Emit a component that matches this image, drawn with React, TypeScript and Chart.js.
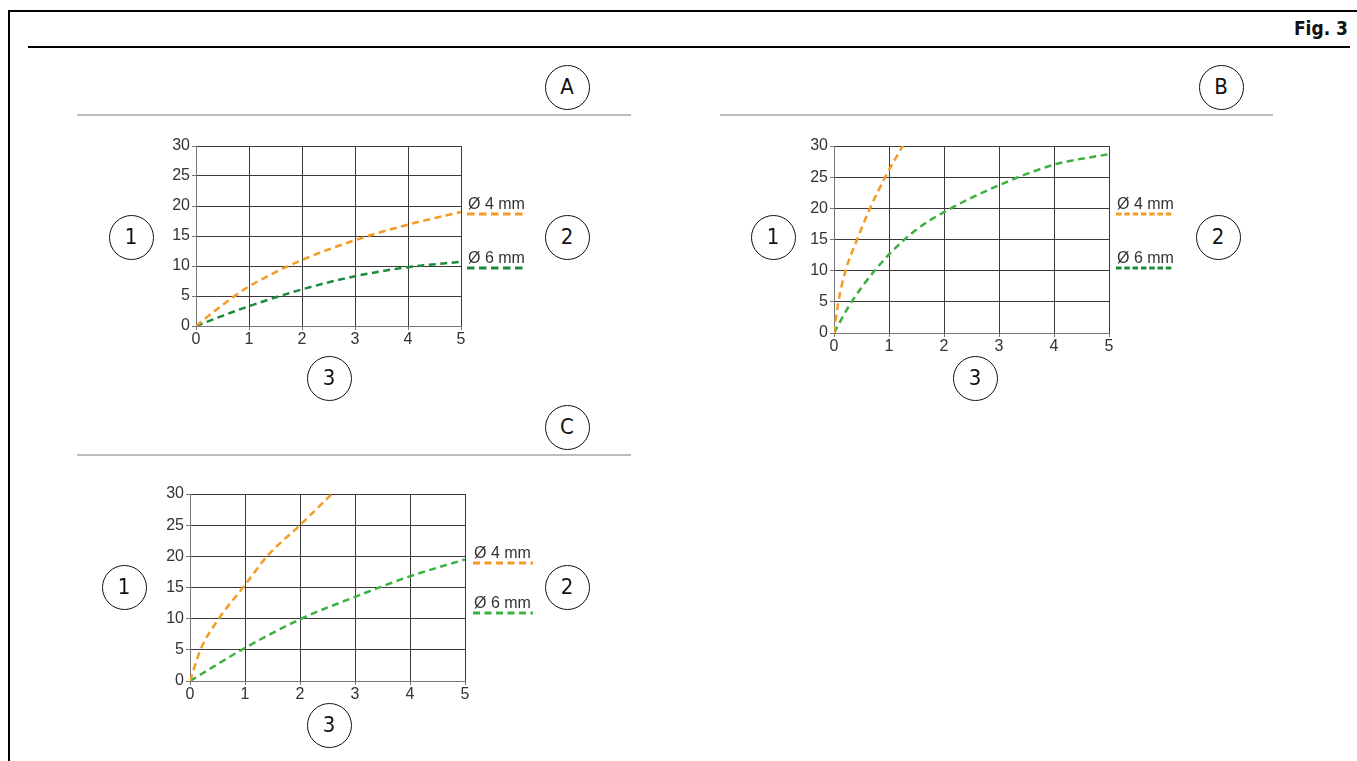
import React, { useEffect, useRef } from "react";
import { Chart, registerables } from "chart.js";

Chart.register(...registerables);

// ---------- data ----------
const xMin = 0;
const xMax = 5;
const xStep = 1;
const yMin = 0;
const yMax = 30;
const yStep = 5;
const seriesNames = ["Ø 4 mm", "Ø 6 mm"];
const figureTitle = "Fig. 3";
const panelLetters = ["A", "B", "C"];
const calloutLabels = ["1", "2", "3"];

// Panel A
const panelAx4 = [0, 0.5, 1, 2, 3, 4, 5];
const panelAy4 = [0, 3.5, 6.6, 11.0, 14.3, 16.9, 19.0];
const panelAx6 = [0, 0.5, 1, 2, 3, 4, 5];
const panelAy6 = [0, 1.7, 3.3, 6.1, 8.3, 9.8, 10.7];

// Panel B
const panelBx4 = [0, 0.08, 0.21, 0.42, 0.655, 0.93, 1.25];
const panelBy4 = [0, 5, 10, 15, 20, 25, 30];
const panelBx6 = [0, 0.25, 0.5, 1, 1.5, 2, 3, 4, 5];
const panelBy6 = [0, 4.0, 7.3, 12.6, 16.6, 19.4, 23.7, 27.0, 28.7];

// Panel C
const panelCx4 = [0, 0.19, 0.5, 1, 1.4, 2, 2.58];
const panelCy4 = [0, 5, 9.7, 15.4, 20, 25, 30];
const panelCx6 = [0, 1, 2, 3, 4, 5];
const panelCy6 = [0, 5.3, 9.9, 13.5, 16.8, 19.5];

// ---------- styles ----------
const ORANGE = "#F39B22";
const GREEN_DARK = "#1B8B3B";
const GREEN_LIGHT = "#3DB140";
const TICK_FONT = 'Arial, "Liberation Sans", sans-serif';
const CIRCLE_FONT = '"DejaVu Sans Condensed", "DejaVu Sans", sans-serif';

type Series = { xs: number[]; ys: number[]; name: string; color: string; legendColor: string };
type Box = { left: number; top: number; width: number; height: number };
type Plot = { left: number; top: number; right: number; bottom: number };
type LegendSpec = { x1: number; x2: number; ys: number[]; dash: number[] };

const Y_AXIS_W = 40;
const X_AXIS_H = 24;

function PanelChart(p: { box: Box; plot: Plot; series: Series[]; legend: LegendSpec }) {
  const ref = useRef<HTMLCanvasElement>(null);
  useEffect(() => {
    const canvas = ref.current;
    if (!canvas) return;
    const legendPlugin = {
      id: "sideLegend",
      afterDraw(chart: any) {
        const ctx = chart.ctx as CanvasRenderingContext2D;
        const a = chart.chartArea;
        ctx.save();
        p.series.forEach((s, i) => {
          const y = a.top + p.legend.ys[i];
          const x1 = a.right + p.legend.x1;
          const x2 = a.right + p.legend.x2;
          ctx.setLineDash(p.legend.dash);
          ctx.lineWidth = 3;
          ctx.strokeStyle = s.legendColor;
          ctx.beginPath();
          ctx.moveTo(x1, y);
          ctx.lineTo(x2, y);
          ctx.stroke();
          ctx.setLineDash([]);
          ctx.fillStyle = "#333";
          ctx.font = `16px ${TICK_FONT}`;
          ctx.textAlign = "left";
          ctx.textBaseline = "alphabetic";
          ctx.fillText(s.name, x1 + 1, y - 5);
        });
        ctx.restore();
      },
    };
    const gridOpts = { color: "#3a3a3a", lineWidth: 1, tickLength: 4, drawTicks: true, tickColor: "#777" };
    const borderOpts = { display: true, color: "#777", width: 1 };
    const chart = new Chart(canvas, {
      type: "line",
      data: {
        datasets: p.series.map((s) => ({
          label: s.name,
          data: s.xs.map((x, i) => ({ x, y: s.ys[i] })),
          borderColor: s.color,
          borderWidth: 2.5,
          borderDash: [7, 4.5],
          pointRadius: 0,
          cubicInterpolationMode: "monotone" as const,
          fill: false,
        })),
      },
      options: {
        animation: false,
        responsive: false,
        events: [],
        layout: {
          padding: {
            left: p.plot.left - p.box.left - Y_AXIS_W,
            top: p.plot.top - p.box.top,
            right: p.box.left + p.box.width - p.plot.right,
            bottom: p.box.top + p.box.height - p.plot.bottom - X_AXIS_H,
          },
        },
        plugins: { legend: { display: false }, tooltip: { enabled: false } },
        scales: {
          x: {
            type: "linear",
            min: xMin,
            max: xMax,
            afterFit: (s: any) => {
              s.height = X_AXIS_H;
            },
            ticks: { stepSize: xStep, color: "#333", font: { family: TICK_FONT, size: 16 }, padding: 0, maxRotation: 0, autoSkip: false },
            grid: gridOpts,
            border: borderOpts,
          },
          y: {
            type: "linear",
            min: yMin,
            max: yMax,
            afterFit: (s: any) => {
              s.width = Y_AXIS_W;
            },
            ticks: { stepSize: yStep, color: "#333", font: { family: TICK_FONT, size: 16 }, padding: 2, autoSkip: false },
            grid: gridOpts,
            border: borderOpts,
          },
        },
      },
      plugins: [legendPlugin],
    } as any);
    return () => chart.destroy();
  }, []);
  return (
    <canvas
      ref={ref}
      width={p.box.width}
      height={p.box.height}
      style={{ position: "absolute", left: p.box.left, top: p.box.top, width: p.box.width, height: p.box.height }}
    />
  );
}

function Circle(props: { cx: number; cy: number; text: string; size?: number }) {
  const d = 45;
  return (
    <div
      style={{
        position: "absolute",
        left: props.cx - d / 2,
        top: props.cy - d / 2,
        width: d,
        height: d,
        boxSizing: "border-box",
        border: "1.6px solid #111",
        borderRadius: "50%",
        display: "flex",
        alignItems: "center",
        justifyContent: "center",
        fontFamily: CIRCLE_FONT,
        fontSize: props.size ?? 22,
        color: "#111",
        lineHeight: 1,
      }}
    >
      {props.text}
    </div>
  );
}

function Rule(props: { left: number; top: number; width: number; height: number; color: string }) {
  return (
    <div
      style={{
        position: "absolute",
        left: props.left,
        top: props.top,
        width: props.width,
        height: props.height,
        background: props.color,
      }}
    />
  );
}

export default function App() {
  const panelA: Series[] = [
    { xs: panelAx4, ys: panelAy4, name: seriesNames[0], color: ORANGE, legendColor: ORANGE },
    { xs: panelAx6, ys: panelAy6, name: seriesNames[1], color: GREEN_DARK, legendColor: GREEN_DARK },
  ];
  const panelB: Series[] = [
    { xs: panelBx4, ys: panelBy4, name: seriesNames[0], color: ORANGE, legendColor: ORANGE },
    { xs: panelBx6, ys: panelBy6, name: seriesNames[1], color: GREEN_LIGHT, legendColor: GREEN_DARK },
  ];
  const panelC: Series[] = [
    { xs: panelCx4, ys: panelCy4, name: seriesNames[0], color: ORANGE, legendColor: ORANGE },
    { xs: panelCx6, ys: panelCy6, name: seriesNames[1], color: GREEN_LIGHT, legendColor: GREEN_LIGHT },
  ];

  return (
    <div
      style={{
        position: "fixed",
        left: 0,
        top: 0,
        width: 1357,
        height: 761,
        background: "#fff",
        overflow: "hidden",
      }}
    >
      {/* frame */}
      <Rule left={8} top={10} width={2} height={751} color="#000" />
      <Rule left={8} top={10} width={1349} height={2} color="#000" />
      <Rule left={28} top={46} width={1322} height={2} color="#000" />
      <div
        style={{
          position: "absolute",
          right: 9,
          top: 18,
          fontFamily: CIRCLE_FONT,
          fontWeight: "bold",
          fontSize: 19,
          lineHeight: "20px",
          color: "#111",
        }}
      >
        {figureTitle}
      </div>

      {/* section rules */}
      <Rule left={77} top={114} width={554} height={2} color="#bdbdbd" />
      <Rule left={720} top={114} width={553} height={2} color="#bdbdbd" />
      <Rule left={77} top={454} width={554} height={2} color="#bdbdbd" />

      {/* charts */}
      <PanelChart
        box={{ left: 140, top: 126, width: 400, height: 240 }}
        plot={{ left: 196, top: 146, right: 461, bottom: 326 }}
        series={panelA}
        legend={{ x1: 6, x2: 66, ys: [68, 122], dash: [7.5, 4.5] }}
      />
      <PanelChart
        box={{ left: 780, top: 126, width: 410, height: 247 }}
        plot={{ left: 834, top: 146, right: 1109, bottom: 333 }}
        series={panelB}
        legend={{ x1: 7, x2: 65, ys: [68, 122], dash: [5.5, 2.8] }}
      />
      <PanelChart
        box={{ left: 134, top: 474, width: 420, height: 247 }}
        plot={{ left: 190, top: 494, right: 465, bottom: 681 }}
        series={panelC}
        legend={{ x1: 8, x2: 68, ys: [69, 119], dash: [7, 4.5] }}
      />

      {/* circled callouts */}
      <Circle cx={567} cy={87} text={panelLetters[0]} />
      <Circle cx={131} cy={237} text={calloutLabels[0]} />
      <Circle cx={567} cy={237} text={calloutLabels[1]} />
      <Circle cx={329} cy={378} text={calloutLabels[2]} />

      <Circle cx={1221} cy={87} text={panelLetters[1]} />
      <Circle cx={773} cy={237} text={calloutLabels[0]} />
      <Circle cx={1218} cy={237} text={calloutLabels[1]} />
      <Circle cx={975} cy={378} text={calloutLabels[2]} />

      <Circle cx={567} cy={427} text={panelLetters[2]} />
      <Circle cx={124} cy={587} text={calloutLabels[0]} />
      <Circle cx={567} cy={587} text={calloutLabels[1]} />
      <Circle cx={329} cy={725} text={calloutLabels[2]} />
    </div>
  );
}
